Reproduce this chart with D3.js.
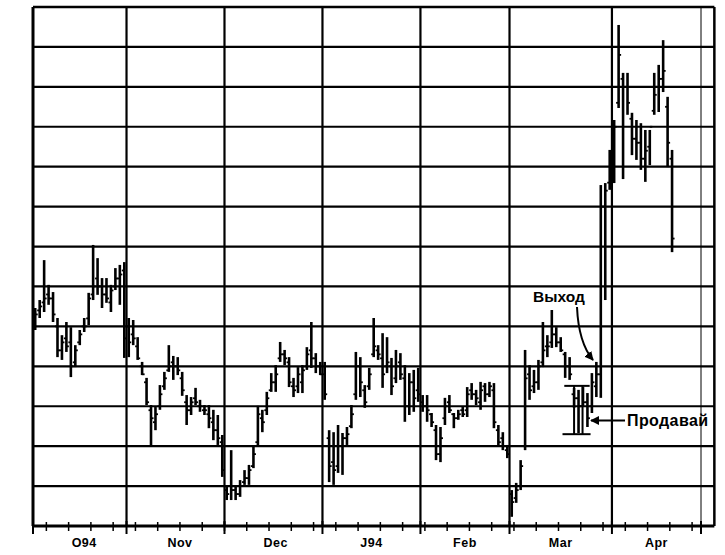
<!DOCTYPE html>
<html><head><meta charset="utf-8">
<script src="https://cdn.jsdelivr.net/npm/d3@7"></script>
<style>body{margin:0;background:#fff}svg{display:block}</style>
</head><body>
<script>
// ---- data (day index 0 = first trading day of Oct 1993) ----
const monthLabels = ["O94","Nov","Dec","J94","Feb","Mar","Apr"];
const monthStarts = [0,21,43,65,87,107,130,150];
const labelDays = [11.5,33,54.5,76,97,118.5,140];

const high = [54.6,56.6,66.6,60.4,58.6,52.1,47.8,51.1,49.8,45.3,49.1,52.1,58.4,70.4,67.1,62.1,62.1,60.4,64.6,65.4,66.1,
 52.1,51.6,47.3,41.1,37.1,30.3,29.8,35.3,38.6,45.3,42.6,42.3,38.6,32.8,32.3,34.6,31.6,30.3,30.3,29.1,27.8,22.8,
 9.8,19.0,9.8,11.5,14.0,15.3,19.8,30.1,29.1,33.6,38.3,40.3,46.1,44.1,42.3,37.1,39.8,40.3,44.8,51.1,43.3,41.1,
 41.1,24.0,23.5,25.3,23.3,24.8,30.3,43.6,42.3,35.3,39.6,52.1,45.3,48.3,47.3,42.1,44.1,43.3,40.3,38.3,39.1,39.6,
 32.8,32.8,28.3,25.3,24.8,32.1,32.8,28.3,29.1,29.8,34.8,35.8,34.1,36.1,35.8,36.1,35.8,25.3,23.5,20.3,
 9.0,10.8,16.5,44.1,40.3,39.1,41.6,51.1,47.8,54.1,49.8,47.3,43.6,42.3,34.6,34.1,34.8,33.3,38.3,41.1,85.4,85.9,94.2,
 101.7,125.5,113.5,113.5,103.5,101.7,100.9,99.2,99.2,113.5,115.5,121.7,107.5,94.2];
const low = [49.1,52.1,53.6,55.4,51.1,42.3,41.6,43.6,37.3,39.8,45.3,48.6,50.3,56.6,57.9,54.6,55.9,53.6,59.1,55.4,42.1,
 42.3,45.3,41.6,37.8,30.3,19.8,24.0,29.1,34.1,38.6,36.6,37.8,32.6,25.3,27.8,30.3,28.6,27.8,24.5,21.5,20.3,12.3,
 6.5,6.5,6.5,7.3,10.3,10.3,14.5,19.8,23.5,27.8,33.6,33.6,41.1,40.3,34.8,32.3,33.3,33.3,39.1,39.6,38.3,37.8,
 31.6,11.0,10.3,13.3,12.8,20.3,24.5,31.6,32.3,29.6,34.1,42.3,41.6,34.6,38.3,32.8,35.8,36.6,26.1,27.8,28.6,31.1,
 28.6,26.1,24.8,16.5,16.0,25.3,28.3,24.5,26.6,27.3,27.3,31.6,30.3,29.1,31.1,32.3,24.5,19.8,19.0,17.0,
 2.3,5.8,9.0,19.0,31.6,33.3,34.1,39.8,42.3,44.6,44.8,43.6,37.1,36.6,29.6,23.3,29.8,24.8,28.3,32.3,32.1,56.6,84.2,
 85.9,104.7,86.9,103.0,92.9,91.7,89.2,86.2,90.4,103.0,103.7,108.7,89.9,68.6];
const open = [51,54,56,58,57,50,44,47,46,41,46,50,52,58,62,60,58,56,60,62,64,
 50,48,45,40,36,29,26,30,35,39,41,40,37,31,29,32,30,29,28,26,24,21,
 9,10,9,8,11,12,15,21,27,29,34,36,42,43,41,35,35,36,40,44,42,40,
 38,22,16,15,20,22,25,33,40,34,35,43,44,42,40,40,37,41,37,30,36,34,
 31,30,28,24,18,27,31,28,27,29,29,34,33,31,35,33,34,24,22,19,
 8,7,10,20,38,35,36,41,45,46,48,46,43,40,33,32,30,31,30,35,38,80,86,
 90,106,112,110,102,97,96,92,95,104,110,112,105,92];
const close = [53,55,57,57,53,44,46,45,40,44,48,50,57,60,60,58,57,59,62,63,47,
 46,47,42,38,31,27,28,33,37,40,40,39,34,29,31,31,30,29,27,24,22,14,
 8,9,8,10,12,14,18,28,26,32,36,38,43,42,36,34,38,39,43,42,40,38,
 33,15,14,20,22,23,28,40,36,31,38,45,43,38,41,35,40,38,30,36,32,33,
 30,29,26,18,22,30,29,27,28,28,33,33,32,34,33,35,26,21,20,18,
 6,9,15,37,34,36,40,44,45,48,46,44,40,38,32,30,31,27,36,38,80,84,92,
 100,118,110,106,97,96,92,94,100,108,112,114,96,72];

// annotation levels (price units) and day spans
const sellTop = 35.1, sellBottom = 23.0;
const sellSpan = [119.3, 125.0];
const sellLegs = [121.5, 123.4];

// ---- drawing ----
const W = 725, H = 555;
const svg = d3.select("body").append("svg").attr("width", W).attr("height", H);
const x = d3.scaleLinear().domain([0, 150]).range([33, 701]);
const y = d3.scaleLinear().domain([0, 130]).range([526, 7]);
const xRight = x(153);

// horizontal gridlines
svg.append("g").selectAll("line").data(d3.range(10, 130, 10)).join("line")
  .attr("x1", x(0)).attr("x2", xRight).attr("y1", d => y(d)).attr("y2", d => y(d))
  .attr("stroke", "#000").attr("stroke-width", 2.2);

// month gridlines
svg.append("g").selectAll("line").data(monthStarts.slice(1)).join("line")
  .attr("x1", d => x(d)).attr("x2", d => x(d)).attr("y1", y(130)).attr("y2", y(0))
  .attr("stroke", "#000").attr("stroke-width", (d, i) => i === 6 ? 1 : 2.2);

// frame
svg.append("line").attr("x1", x(0)).attr("x2", xRight).attr("y1", y(130)).attr("y2", y(130))
  .attr("stroke", "#000").attr("stroke-width", 2.5);
svg.append("line").attr("x1", x(0)).attr("x2", x(0)).attr("y1", y(130)).attr("y2", y(0))
  .attr("stroke", "#000").attr("stroke-width", 3);
svg.append("line").attr("x1", xRight).attr("x2", xRight).attr("y1", y(130)).attr("y2", y(0))
  .attr("stroke", "#000").attr("stroke-width", 2.5);

// x axis with weekly ticks and month ticks
const axisG = svg.append("g").attr("transform", `translate(0,${y(0)})`);
axisG.append("line").attr("x1", x(0)).attr("x2", xRight).attr("stroke", "#000").attr("stroke-width", 3);
axisG.selectAll("line.wk").data(d3.range(3, 150, 5)).join("line").attr("class", "wk")
  .attr("x1", d => x(d)).attr("x2", d => x(d)).attr("y1", -4).attr("y2", 5)
  .attr("stroke", "#000").attr("stroke-width", 1.5);
axisG.selectAll("line.mo").data(monthStarts).join("line").attr("class", "mo")
  .attr("x1", d => x(d)).attr("x2", d => x(d)).attr("y1", -5).attr("y2", 8)
  .attr("stroke", "#000").attr("stroke-width", 2);
axisG.selectAll("text").data(monthLabels).join("text")
  .attr("x", (d, i) => x(labelDays[i])).attr("y", 21)
  .attr("text-anchor", "middle").attr("font-family", "Liberation Sans, Arial, sans-serif")
  .attr("font-weight", "bold").attr("font-size", 12.5).attr("letter-spacing", 0.5).text(d => d);

// OHLC bars
const bars = svg.append("g").attr("stroke", "#000");
high.forEach((h, i) => {
  const cx = x(i + 0.5);
  bars.append("line").attr("x1", cx).attr("x2", cx).attr("y1", y(h)).attr("y2", y(low[i])).attr("stroke-width", 2.6);
  bars.append("line").attr("x1", cx - 2.5).attr("x2", cx).attr("y1", y(open[i])).attr("y2", y(open[i])).attr("stroke-width", 1.8);
  bars.append("line").attr("x1", cx).attr("x2", cx + 2.5).attr("y1", y(close[i])).attr("y2", y(close[i])).attr("stroke-width", 1.8);
});

// sell bracket annotation
const ann = svg.append("g").attr("stroke", "#000").attr("stroke-width", 2);
ann.append("line").attr("x1", x(sellSpan[0])).attr("x2", x(sellSpan[1])).attr("y1", y(sellTop)).attr("y2", y(sellTop));
ann.append("line").attr("x1", x(sellSpan[0] - 0.4)).attr("x2", x(sellSpan[1] + 0.2)).attr("y1", y(sellBottom)).attr("y2", y(sellBottom));
sellLegs.forEach(d => ann.append("line").attr("x1", x(d)).attr("x2", x(d)).attr("y1", y(sellTop)).attr("y2", y(sellBottom)));

// arrowheads
const defs = svg.append("defs");
defs.append("marker").attr("id", "ah").attr("viewBox", "0 0 10 10").attr("refX", 9).attr("refY", 5)
  .attr("markerWidth", 9).attr("markerHeight", 9).attr("markerUnits", "userSpaceOnUse").attr("orient", "auto")
  .append("path").attr("d", "M0,0 L10,5 L0,10 Z").attr("fill", "#000");

// "Выход" label and curved arrow
svg.append("text").attr("x", 559).attr("y", 302).attr("text-anchor", "middle")
  .attr("font-family", "Liberation Sans, Arial, sans-serif").attr("font-weight", "bold").attr("font-size", 15.5)
  .text("Выход");
svg.append("path").attr("d", "M577,307 C578,330 583,348 593,360")
  .attr("fill", "none").attr("stroke", "#000").attr("stroke-width", 2).attr("marker-end", "url(#ah)");

// "Продавай" label and arrow
svg.append("text").attr("x", 627).attr("y", 426)
  .attr("font-family", "Liberation Sans, Arial, sans-serif").attr("font-weight", "bold").attr("font-size", 16)
  .attr("letter-spacing", 0.4).text("Продавай");
svg.append("line").attr("x1", 625).attr("x2", 591).attr("y1", 420.5).attr("y2", 420.5)
  .attr("stroke", "#000").attr("stroke-width", 2).attr("marker-end", "url(#ah)");
</script>
</body></html>
